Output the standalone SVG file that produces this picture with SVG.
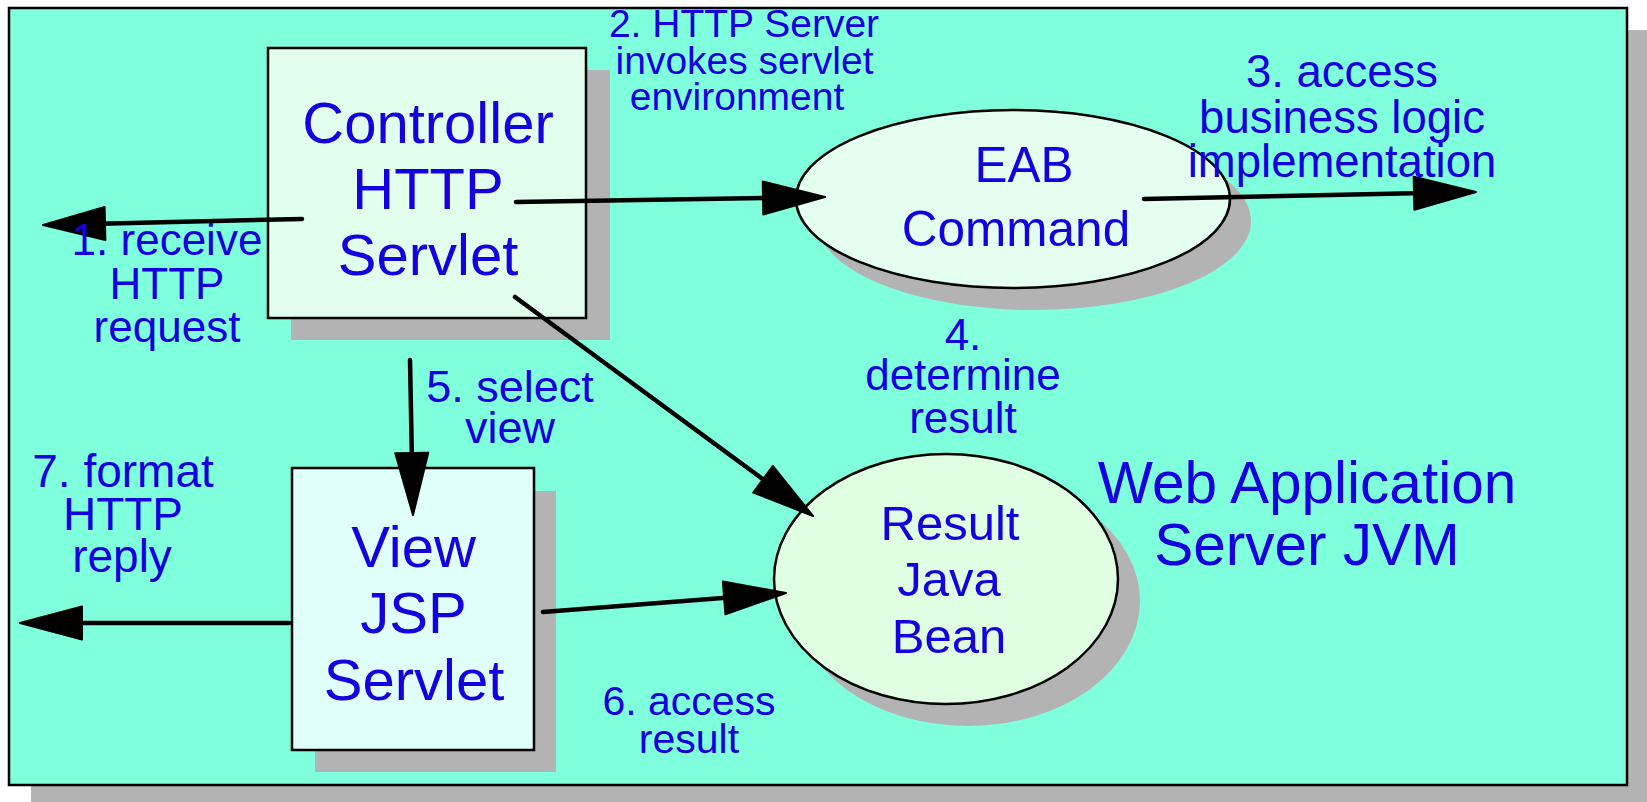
<svg xmlns="http://www.w3.org/2000/svg" width="1647" height="802" viewBox="0 0 1647 802">
<style>
.shadow{fill:#b3b3b3;stroke:none}
.node{stroke:#000;stroke-width:2.5}
.big{font-family:"Liberation Sans",Arial,sans-serif;fill:#1400e0;text-anchor:middle}
.lbl{font-family:"Liberation Sans",Arial,sans-serif;fill:#1400e0;text-anchor:middle}
.conn{fill:none;stroke:#000;stroke-width:4.5;stroke-linecap:round}
</style>
<defs>
<marker id="ah" markerUnits="userSpaceOnUse" markerWidth="70" markerHeight="40" refX="49" refY="18.5" orient="auto" overflow="visible">
<path d="M2,2 L64,18.5 L2,35 Z" fill="#000" stroke="#000" stroke-width="2" stroke-linejoin="round"/>
</marker>
</defs>
<g id="frame">
<rect class="shadow" x="31" y="30" width="1620" height="780"/>
<rect x="9" y="8" width="1618" height="777" fill="#7fffdc" stroke="#000" stroke-width="2.5"/>
</g>
<g id="controller">
<rect class="shadow" x="291" y="70" width="319" height="270"/>
<rect class="node" x="268" y="48" width="318" height="270" fill="#e2ffee"/>
<text class="big" font-size="58" x="428" y="143">Controller</text>
<text class="big" font-size="58" x="428" y="209">HTTP</text>
<text class="big" font-size="58" x="428" y="275">Servlet</text>
</g>
<g id="eab">
<ellipse class="shadow" cx="1034" cy="221" rx="217" ry="89"/>
<ellipse class="node" cx="1013" cy="199" rx="217" ry="89" fill="#e4fff0"/>
<text class="big" font-size="49.5" x="1024" y="182">EAB</text>
<text class="big" font-size="49.5" x="1016" y="246">Command</text>
</g>
<g id="result">
<ellipse class="shadow" cx="968" cy="601" rx="172" ry="125"/>
<ellipse class="node" cx="946" cy="579" rx="172" ry="125" fill="#e0ffe2"/>
<text class="big" font-size="49" x="950" y="540">Result</text>
<text class="big" font-size="49" x="949" y="596">Java</text>
<text class="big" font-size="49" x="949" y="653">Bean</text>
</g>
<g id="view">
<rect class="shadow" x="315" y="491" width="241" height="281"/>
<rect class="node" x="292" y="468" width="242" height="282" fill="#e0fffa"/>
<text class="big" font-size="58" x="413.5" y="567">View</text>
<text class="big" font-size="58" x="413.5" y="633">JSP</text>
<text class="big" font-size="58" x="414" y="700">Servlet</text>
</g>
<g id="webapp">
<text class="big" font-size="58.5" x="1307" y="503">Web Application</text>
<text class="big" font-size="58.5" x="1307" y="565">Server JVM</text>
</g>
<g id="connectors">
<path class="conn" d="M302,219 L58,224.65" marker-end="url(#ah)"/>
<path class="conn" d="M516,202 L810,197.2" marker-end="url(#ah)"/>
<path class="conn" d="M1144,199 L1461,192.3" marker-end="url(#ah)"/>
<path class="conn" d="M515,297 L800.9,507.1" marker-end="url(#ah)"/>
<path class="conn" d="M410,360 L412.7,500" marker-end="url(#ah)"/>
<path class="conn" d="M543,612 L771,594.2" marker-end="url(#ah)"/>
<path class="conn" d="M289,623 L35,623" marker-end="url(#ah)"/>
</g>
<g id="labels">
<text class="lbl" font-size="44" x="167" y="255">1. receive</text>
<text class="lbl" font-size="44" x="167" y="299">HTTP</text>
<text class="lbl" font-size="44" x="167" y="342">request</text>
<text class="lbl" font-size="39" x="744" y="37">2. HTTP Server</text>
<text class="lbl" font-size="39" x="744.5" y="74">invokes servlet</text>
<text class="lbl" font-size="39" x="737" y="110">environment</text>
<text class="lbl" font-size="45.5" x="1342" y="87">3. access</text>
<text class="lbl" font-size="45.5" x="1342" y="133">business logic</text>
<text class="lbl" font-size="45.5" x="1342" y="177">implementation</text>
<text class="lbl" font-size="44" x="963" y="350">4.</text>
<text class="lbl" font-size="44" x="963" y="390">determine</text>
<text class="lbl" font-size="44" x="963" y="433">result</text>
<text class="lbl" font-size="45" x="510" y="402">5. select</text>
<text class="lbl" font-size="45" x="510" y="443">view</text>
<text class="lbl" font-size="41" x="689" y="715">6. access</text>
<text class="lbl" font-size="41" x="689" y="753">result</text>
<text class="lbl" font-size="46" x="123" y="487">7. format</text>
<text class="lbl" font-size="46" x="123" y="530">HTTP</text>
<text class="lbl" font-size="46" x="122" y="572">reply</text>
</g>
</svg>
